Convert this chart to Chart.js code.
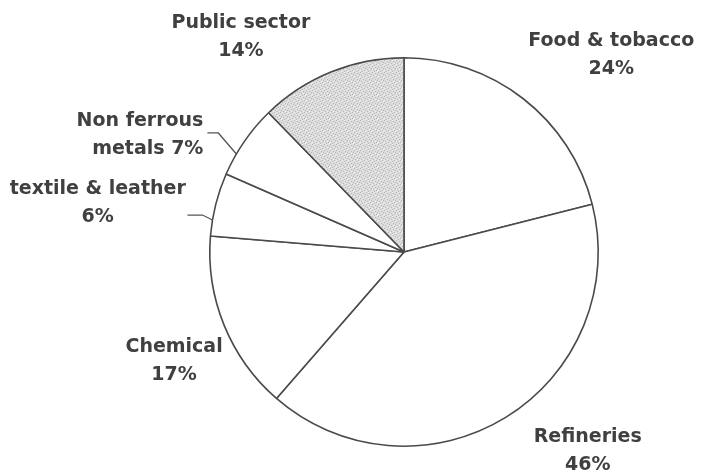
<!DOCTYPE html>
<html>
<head>
<meta charset="utf-8">
<script src="https://cdn.jsdelivr.net/npm/chart.js@4/dist/chart.umd.min.js"></script>
<style>
  html, body { margin: 0; padding: 0; background: #fff; }
  #industry { display: block; }
</style>
</head>
<body>
<canvas id="industry" width="702" height="475"></canvas>
<script>
// share of industrial consumption by sector (%)
const sectors = ['Food & tobacco', 'Refineries', 'Chemical', 'textile & leather', 'Non ferrous metals', 'Public sector'];
const shares = [24, 46, 17, 6, 7, 14];
const labelLines = [
    ['Food & tobacco', '24%'],
    ['Refineries', '46%'],
    ['Chemical', '17%'],
    ['textile & leather', '6%'],
    ['Non ferrous', 'metals 7%'],
    ['Public sector', '14%']
];

// speckled grey fill for the public sector slice
function stipple() {
    const c = document.createElement('canvas');
    c.width = 6;
    c.height = 6;
    const g = c.getContext('2d');
    g.fillStyle = '#dcdcdc';
    g.fillRect(0, 0, 6, 6);
    g.fillStyle = '#b8b8b8';
    [[0, 0], [3, 1], [1, 3], [4, 4], [5, 2], [2, 5]].forEach(p => g.fillRect(p[0], p[1], 1, 1));
    g.fillStyle = '#efefef';
    [[2, 0], [5, 5], [0, 4], [3, 3]].forEach(p => g.fillRect(p[0], p[1], 1, 1));
    return g.createPattern(c, 'repeat');
}

const ctx = document.getElementById('industry').getContext('2d');
const fills = ['#ffffff', '#ffffff', '#ffffff', '#ffffff', '#ffffff', stipple()];

// label placement, relative to the outer edge at each slice's mid angle
const labelPlace = [
    { dx: 88, dy: -58, align: 'center' },
    { dx: 82, dy: 20, align: 'center' },
    { dx: -50, dy: 22, align: 'center' },
    { dx: -118, dy: -15, align: 'center' },
    { dx: -41, dy: -20, align: 'right' },
    { dx: -90, dy: -49, align: 'center' }
];
// small leader ticks for the two thin slices: where on the slice, knee and end (relative to edge point)
const leaders = {
    3: { at: 0.25, knee: [-10, -5], end: [-25, -5] },
    4: { at: 0.3, knee: [-18, -21], end: [-29, -21] }
};

const sliceLabels = {
    id: 'sliceLabels',
    afterDatasetsDraw(chart) {
        const c = chart.ctx;
        const arcs = chart.getDatasetMeta(0).data;
        c.save();
        c.font = 'bold 19px "DejaVu Sans"';
        c.fillStyle = '#404040';
        c.textBaseline = 'middle';
        arcs.forEach((arc, i) => {
            const mid = (arc.startAngle + arc.endAngle) / 2;
            const ex = arc.x + Math.cos(mid) * arc.outerRadius;
            const ey = arc.y + Math.sin(mid) * arc.outerRadius;
            const p = labelPlace[i];
            c.textAlign = p.align;
            labelLines[i].forEach((line, k) => {
                c.fillText(line, ex + p.dx, ey + p.dy + k * 28);
            });
            const ld = leaders[i];
            if (ld) {
                const a = arc.startAngle + (arc.endAngle - arc.startAngle) * ld.at;
                const lx = arc.x + Math.cos(a) * arc.outerRadius;
                const ly = arc.y + Math.sin(a) * arc.outerRadius;
                c.beginPath();
                c.strokeStyle = '#555';
                c.lineWidth = 1.3;
                c.moveTo(lx, ly);
                c.lineTo(lx + ld.knee[0], ly + ld.knee[1]);
                c.lineTo(lx + ld.end[0], ly + ld.end[1]);
                c.stroke();
            }
        });
        c.restore();
    }
};

new Chart(ctx, {
    type: 'pie',
    data: {
        labels: sectors,
        datasets: [{
            data: shares,
            backgroundColor: fills,
            borderColor: '#4a4a4a',
            borderWidth: 1.6
        }]
    },
    options: {
        responsive: false,
        animation: false,
        layout: {
            padding: { top: 57, bottom: 28, left: 110, right: 4 }
        },
        plugins: {
            legend: { display: false },
            tooltip: { enabled: false }
        }
    },
    plugins: [sliceLabels]
});
</script>
</body>
</html>
